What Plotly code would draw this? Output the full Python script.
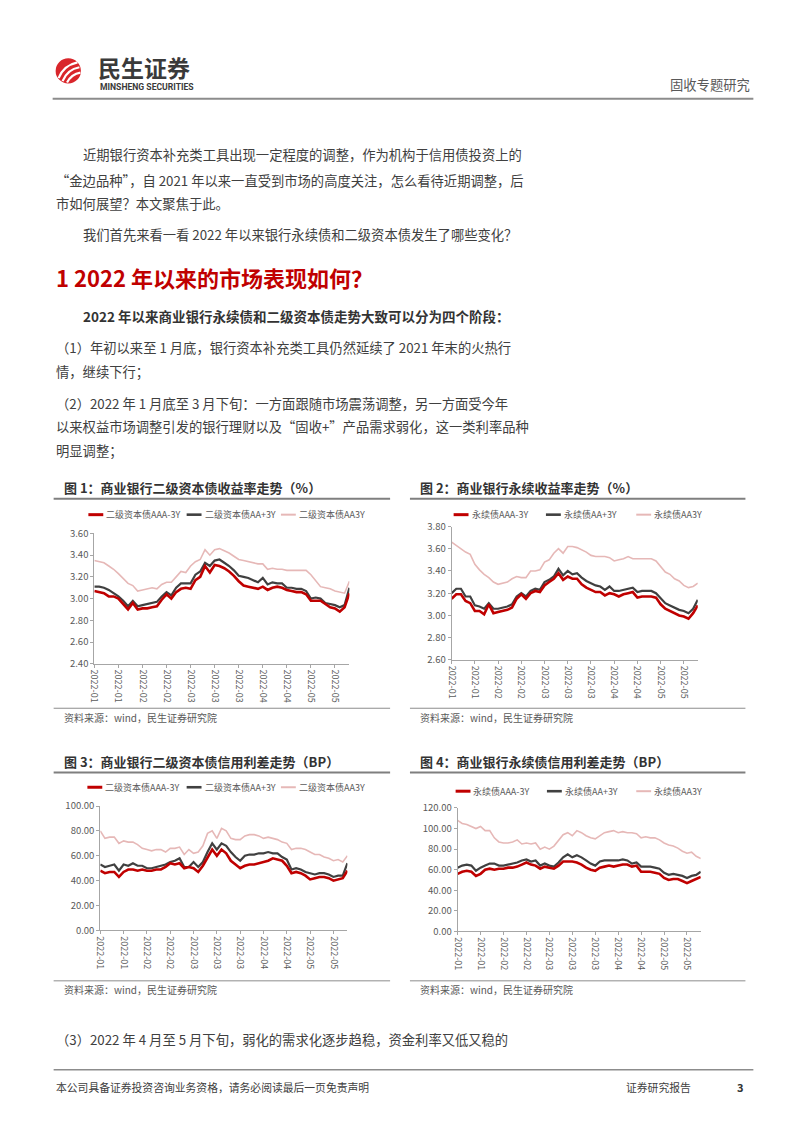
import plotly.graph_objects as go

# ---------------- data ----------------
tick_labels = ["2022-01", "2022-01", "2022-02", "2022-02", "2022-03", "2022-03",
               "2022-03", "2022-04", "2022-04", "2022-05", "2022-05"]

names_c1 = ["二级资本债AAA-3Y", "二级资本债AA+3Y", "二级资本债AA3Y"]
names_c2 = ["永续债AAA-3Y", "永续债AA+3Y", "永续债AA3Y"]

# Fig 1: tier-2 capital bond yields (%)
c1_aaa = [3.07, 3.06, 3.05, 3.02, 3.02, 3.00, 2.95, 2.90, 2.96, 2.90, 2.91, 2.91, 2.92, 2.93,
          2.99, 3.04, 3.00, 3.06, 3.09, 3.10, 3.09, 3.17, 3.20, 3.30, 3.24, 3.31, 3.30, 3.28,
          3.25, 3.21, 3.16, 3.12, 3.11, 3.10, 3.09, 3.11, 3.08, 3.10, 3.11, 3.10, 3.08, 3.07,
          3.06, 3.06, 3.04, 2.98, 2.98, 2.98, 2.95, 2.92, 2.91, 2.88, 2.92, 3.05]
c1_aap = [3.11, 3.11, 3.10, 3.08, 3.05, 3.02, 2.98, 2.93, 2.98, 2.93, 2.94, 2.95, 2.96, 2.97,
          3.02, 3.06, 3.03, 3.10, 3.14, 3.14, 3.14, 3.22, 3.25, 3.33, 3.30, 3.35, 3.36, 3.33,
          3.30, 3.26, 3.21, 3.20, 3.19, 3.17, 3.15, 3.19, 3.13, 3.15, 3.14, 3.14, 3.10, 3.10,
          3.09, 3.09, 3.07, 3.00, 3.01, 3.00, 2.96, 2.95, 2.94, 2.92, 2.94, 3.10]
c1_aa = [3.35, 3.34, 3.33, 3.30, 3.27, 3.23, 3.18, 3.14, 3.12, 3.07, 3.08, 3.09, 3.10, 3.09,
         3.13, 3.15, 3.15, 3.20, 3.25, 3.24, 3.30, 3.34, 3.36, 3.45, 3.40, 3.45, 3.46, 3.44,
         3.42, 3.39, 3.36, 3.35, 3.34, 3.33, 3.32, 3.32, 3.27, 3.28, 3.27, 3.27, 3.26, 3.26,
         3.26, 3.26, 3.26, 3.22, 3.16, 3.11, 3.10, 3.09, 3.07, 3.06, 3.05, 3.16]

# Fig 2: perpetual bond yields (%)
c2_aaa = [3.15, 3.19, 3.19, 3.13, 3.11, 3.04, 3.04, 3.01, 3.10, 3.02, 3.03, 3.04, 3.05, 3.07,
          3.15, 3.19, 3.15, 3.20, 3.22, 3.21, 3.27, 3.30, 3.33, 3.38, 3.32, 3.35, 3.33, 3.33,
          3.28, 3.25, 3.23, 3.21, 3.21, 3.18, 3.20, 3.19, 3.17, 3.19, 3.20, 3.21, 3.16, 3.17,
          3.17, 3.17, 3.16, 3.10, 3.06, 3.04, 3.02, 3.00, 2.99, 2.97, 3.02, 3.09]
c2_aap = [3.20, 3.24, 3.24, 3.17, 3.17, 3.09, 3.08, 3.06, 3.11, 3.06, 3.06, 3.07, 3.08, 3.10,
          3.17, 3.20, 3.17, 3.22, 3.24, 3.23, 3.30, 3.32, 3.35, 3.42, 3.36, 3.40, 3.37, 3.38,
          3.34, 3.31, 3.29, 3.27, 3.26, 3.23, 3.26, 3.22, 3.22, 3.23, 3.24, 3.25, 3.21, 3.22,
          3.22, 3.22, 3.20, 3.15, 3.11, 3.09, 3.07, 3.05, 3.04, 3.02, 3.06, 3.14]
c2_aa = [3.66, 3.63, 3.60, 3.57, 3.55, 3.46, 3.41, 3.37, 3.34, 3.30, 3.28, 3.29, 3.30, 3.33,
         3.35, 3.34, 3.34, 3.40, 3.40, 3.41, 3.48, 3.50, 3.56, 3.60, 3.56, 3.62, 3.62, 3.61,
         3.59, 3.57, 3.54, 3.53, 3.53, 3.53, 3.52, 3.49, 3.50, 3.51, 3.53, 3.51, 3.51, 3.51,
         3.51, 3.51, 3.49, 3.44, 3.39, 3.37, 3.33, 3.31, 3.27, 3.25, 3.26, 3.29]

# Fig 3: tier-2 capital bond credit spreads (BP)
c3_aaa = [48, 46, 47, 47, 43, 47, 49, 49, 48, 49, 48, 48, 49, 49, 51, 54, 53, 54, 50, 51,
          50, 47, 52, 58, 65, 60, 65, 62, 56, 53, 50, 52, 53, 53, 54, 55, 56, 58, 57, 56,
          52, 46, 47, 46, 44, 41, 42, 43, 43, 42, 40, 41, 42, 48]
c3_aap = [53, 51, 52, 53, 48, 53, 52, 54, 52, 52, 50, 50, 51, 52, 53, 55, 56, 58, 51, 51,
          55, 51, 55, 63, 70, 65, 70, 68, 63, 59, 56, 60, 61, 61, 62, 62, 63, 62, 62, 59,
          57, 49, 50, 49, 47, 46, 45, 46, 46, 45, 43, 44, 44, 54]
c3_aa = [80, 74, 75, 75, 70, 72, 71, 71, 69, 66, 65, 64, 65, 65, 63, 66, 66, 67, 61, 65,
         62, 63, 68, 78, 80, 74, 82, 80, 74, 73, 73, 76, 77, 77, 76, 74, 75, 74, 73, 71,
         70, 65, 66, 66, 65, 63, 61, 61, 59, 58, 56, 57, 55, 60]

# Fig 4: perpetual bond credit spreads (BP)
c4_aaa = [56, 58, 59, 58, 54, 56, 60, 61, 60, 61, 61, 62, 62, 63, 65, 67, 65, 64, 61, 63,
          62, 61, 64, 68, 68, 68, 67, 65, 62, 60, 59, 62, 63, 64, 63, 64, 65, 65, 63, 64,
          58, 58, 58, 57, 56, 52, 50, 51, 51, 49, 47, 49, 51, 53]
c4_aap = [62, 64, 65, 64, 59, 62, 64, 66, 66, 64, 64, 65, 66, 67, 69, 70, 68, 69, 64, 66,
          64, 63, 67, 72, 75, 72, 74, 72, 69, 66, 64, 68, 69, 69, 69, 69, 70, 69, 66, 67,
          63, 63, 63, 62, 61, 57, 55, 56, 55, 54, 52, 54, 55, 58]
c4_aa = [108, 105, 104, 102, 100, 102, 98, 98, 91, 87, 86, 86, 87, 89, 85, 86, 85, 86, 80, 82,
         80, 83, 88, 94, 96, 93, 98, 96, 93, 91, 90, 93, 96, 97, 98, 96, 97, 96, 96, 95,
         91, 92, 91, 91, 89, 86, 84, 83, 81, 78, 76, 77, 73, 71]

# ---------------- page geometry helpers ----------------
W, H = 802, 1133


def px(x):
    return x / W


def py(y):
    return 1 - y / H


FONT = "Noto Sans CJK SC"
TXT = "#3c3c3c"
GREY = "#595959"
COLORS = ["#C00000", "#404040", "#E6B8B7"]
WIDTHS = [2.6, 2.2, 1.6]

fig = go.Figure()
annotations = []
shapes = []


def text(x, y, s, size, color=TXT, bold=False, anchor="left", family=FONT):
    annotations.append(dict(
        x=px(x), y=py(y), xref="paper", yref="paper", text=s, showarrow=False,
        xanchor=anchor, yanchor="middle",
        font=dict(family=family, size=size, color=color, weight="bold" if bold else "normal")))


def hline(x0, x1, y, color, width):
    shapes.append(dict(type="line", xref="paper", yref="paper", x0=px(x0), x1=px(x1),
                       y0=py(y), y1=py(y), line=dict(color=color, width=width)))


charts = [
    dict(title="图 1：商业银行二级资本债收益率走势（%）", names=names_c1,
         series=[c1_aaa, c1_aap, c1_aa], yr=[2.4, 3.6], dtick=0.2,
         box=(89, 346, 532, 664), tx=56, ty=485, ul=(48, 387, 497),
         ly=513, lx=[83, 182, 277], src=(48, 387, 709, 718), sx=56),
    dict(title="图 2：商业银行永续收益率走势（%）", names=names_c2,
         series=[c2_aaa, c2_aap, c2_aa], yr=[2.6, 3.8], dtick=0.2,
         box=(449, 697, 525, 660), tx=415, ty=485, ul=(407, 745, 497),
         ly=513, lx=[451, 544, 635], src=(407, 745, 709, 718), sx=415),
    dict(title="图 3：商业银行二级资本债信用利差走势（BP）", names=names_c1,
         series=[c3_aaa, c3_aap, c3_aa], yr=[0, 100], dtick=20,
         box=(95, 344, 808, 934), tx=56, ty=763, ul=(48, 387, 774),
         ly=789, lx=[82, 182, 277], src=(48, 387, 985, 994), sx=56),
    dict(title="图 4：商业银行永续债信用利差走势（BP）", names=names_c2,
         series=[c4_aaa, c4_aap, c4_aa], yr=[0, 120], dtick=20,
         box=(455, 700, 810, 935), tx=415, ty=763, ul=(407, 745, 774),
         ly=793, lx=[453, 545, 635], src=(407, 745, 985, 994), sx=415),
]

layout_axes = {}
for k, ch in enumerate(charts, start=1):
    xa = "x" if k == 1 else f"x{k}"
    ya = "y" if k == 1 else f"y{k}"
    x0, x1, ytop, ybot = ch["box"]
    # light series first so the darker lines are drawn on top
    for j in (2, 1, 0):
        vals = ch["series"][j]
        fig.add_trace(go.Scatter(
            x=list(range(len(vals))), y=vals, mode="lines", name=ch["names"][j],
            line=dict(color=COLORS[j], width=WIDTHS[j]),
            xaxis=xa, yaxis=ya, showlegend=False))
    layout_axes["xaxis" if k == 1 else f"xaxis{k}"] = dict(
        domain=[px(x0), px(x1)], anchor=ya, range=[0, len(ch["series"][0]) - 1],
        tickmode="array", tickvals=[5 * i for i in range(len(tick_labels))],
        ticktext=tick_labels, tickangle=90, showline=True, linecolor="#A6A6A6",
        linewidth=1, ticks="outside", ticklen=3, tickcolor="#A6A6A6",
        showgrid=False, zeroline=False,
        tickfont=dict(family=FONT, size=9, color=GREY))
    layout_axes["yaxis" if k == 1 else f"yaxis{k}"] = dict(
        domain=[py(ybot), py(ytop)], anchor=xa, range=ch["yr"], dtick=ch["dtick"],
        tick0=ch["yr"][0], tickformat=".2f", showline=True, linecolor="#A6A6A6",
        linewidth=1, ticks="outside", ticklen=3, tickcolor="#A6A6A6",
        showgrid=False, zeroline=False,
        tickfont=dict(family=FONT, size=9.5, color=GREY))
    # title, underline, legend, source
    text(ch["tx"], ch["ty"], ch["title"], 13, "#333333", bold=True)
    hline(ch["ul"][0], ch["ul"][1], ch["ul"][2], "#7F7F7F", 2)
    for j, nm in enumerate(ch["names"]):
        lx = ch["lx"][j]
        hline(lx, lx + 15, ch["ly"], COLORS[j], WIDTHS[j] + 0.4)
        text(lx + 16, ch["ly"], nm, 9, GREY)
    s0, s1, sy, st = ch["src"]
    hline(s0, s1, sy, "#8C8C8C", 1)
    text(ch["sx"], st, "资料来源：wind，民生证券研究院", 10, GREY)

# ---------------- header ----------------
shapes.append(dict(type="circle", xref="paper", yref="paper", x0=px(50), x1=px(75.5),
                   y0=py(76.5), y1=py(51), fillcolor="#D9262B", line=dict(width=0)))


def wpath(pts):
    (ax, ay), (cx, cy), (bx, by) = pts
    return f"M {px(ax)},{py(ay)} Q {px(cx)},{py(cy)} {px(bx)},{py(by)}"


for pts in [((53, 71), (58, 58), (72, 55)), ((57, 74), (62, 62), (74, 60)),
            ((61.5, 75.5), (66, 67), (75, 65.5))]:
    shapes.append(dict(type="path", xref="paper", yref="paper", path=wpath(pts),
                       line=dict(color="white", width=2.2)))

text(91, 60, "民生证券", 23, "#3a3a3a", bold=True)
text(93, 79.5, "MINSHENG SECURITIES", 8.6, "#3a3a3a", bold=True, family="Roboto")
text(752, 77.5, "固收专题研究", 13.3, GREY, anchor="right")
hline(47, 753, 92, "#8C8C8C", 2)

# ---------------- body text ----------------
body = [
    (76, 148, "近期银行资本补充类工具出现一定程度的调整，作为机构于信用债投资上的"),
    (48, 175, "“金边品种”，自 2021 年以来一直受到市场的高度关注，怎么看待近期调整，后"),
    (48, 198, "市如何展望？本文聚焦于此。"),
    (76, 229, "我们首先来看一看 2022 年以来银行永续债和二级资本债发生了哪些变化？"),
    (48, 344, "（1）年初以来至 1 月底，银行资本补充类工具仍然延续了 2021 年末的火热行"),
    (48, 368, "情，继续下行；"),
    (48, 400, "（2）2022 年 1 月底至 3 月下旬：一方面跟随市场震荡调整，另一方面受今年"),
    (48, 424, "以来权益市场调整引发的银行理财以及“固收+”产品需求弱化，这一类利率品种"),
    (48, 448, "明显调整；"),
    (48, 1044, "（3）2022 年 4 月至 5 月下旬，弱化的需求化逐步趋稳，资金利率又低又稳的"),
]
for x, y, s in body:
    text(x, y, s, 13.3, "#404040")

text(48, 272, "1 2022 年以来的市场表现如何？", 22, "#C00000", bold=True)
text(76, 312, "2022 年以来商业银行永续债和二级资本债走势大致可以分为四个阶段：", 13.5,
     "#333333", bold=True)

# ---------------- footer ----------------
hline(48, 753, 1075, "#8C8C8C", 1.5)
text(48, 1093, "本公司具备证券投资咨询业务资格，请务必阅读最后一页免责声明", 10.8, "#404040")
text(623, 1093, "证券研究报告", 10.8, "#404040")
text(746, 1093, "3", 11, "#333333", bold=True, anchor="right")

fig.update_layout(
    width=W, height=H, margin=dict(l=0, r=0, t=0, b=0),
    paper_bgcolor="white", plot_bgcolor="white", showlegend=False,
    font=dict(family=FONT), annotations=annotations, shapes=shapes, **layout_axes)

fig.write_html("out.html", config={"displayModeBar": False},
               post_script="document.body.style.margin='0';document.body.style.overflow='hidden';")
